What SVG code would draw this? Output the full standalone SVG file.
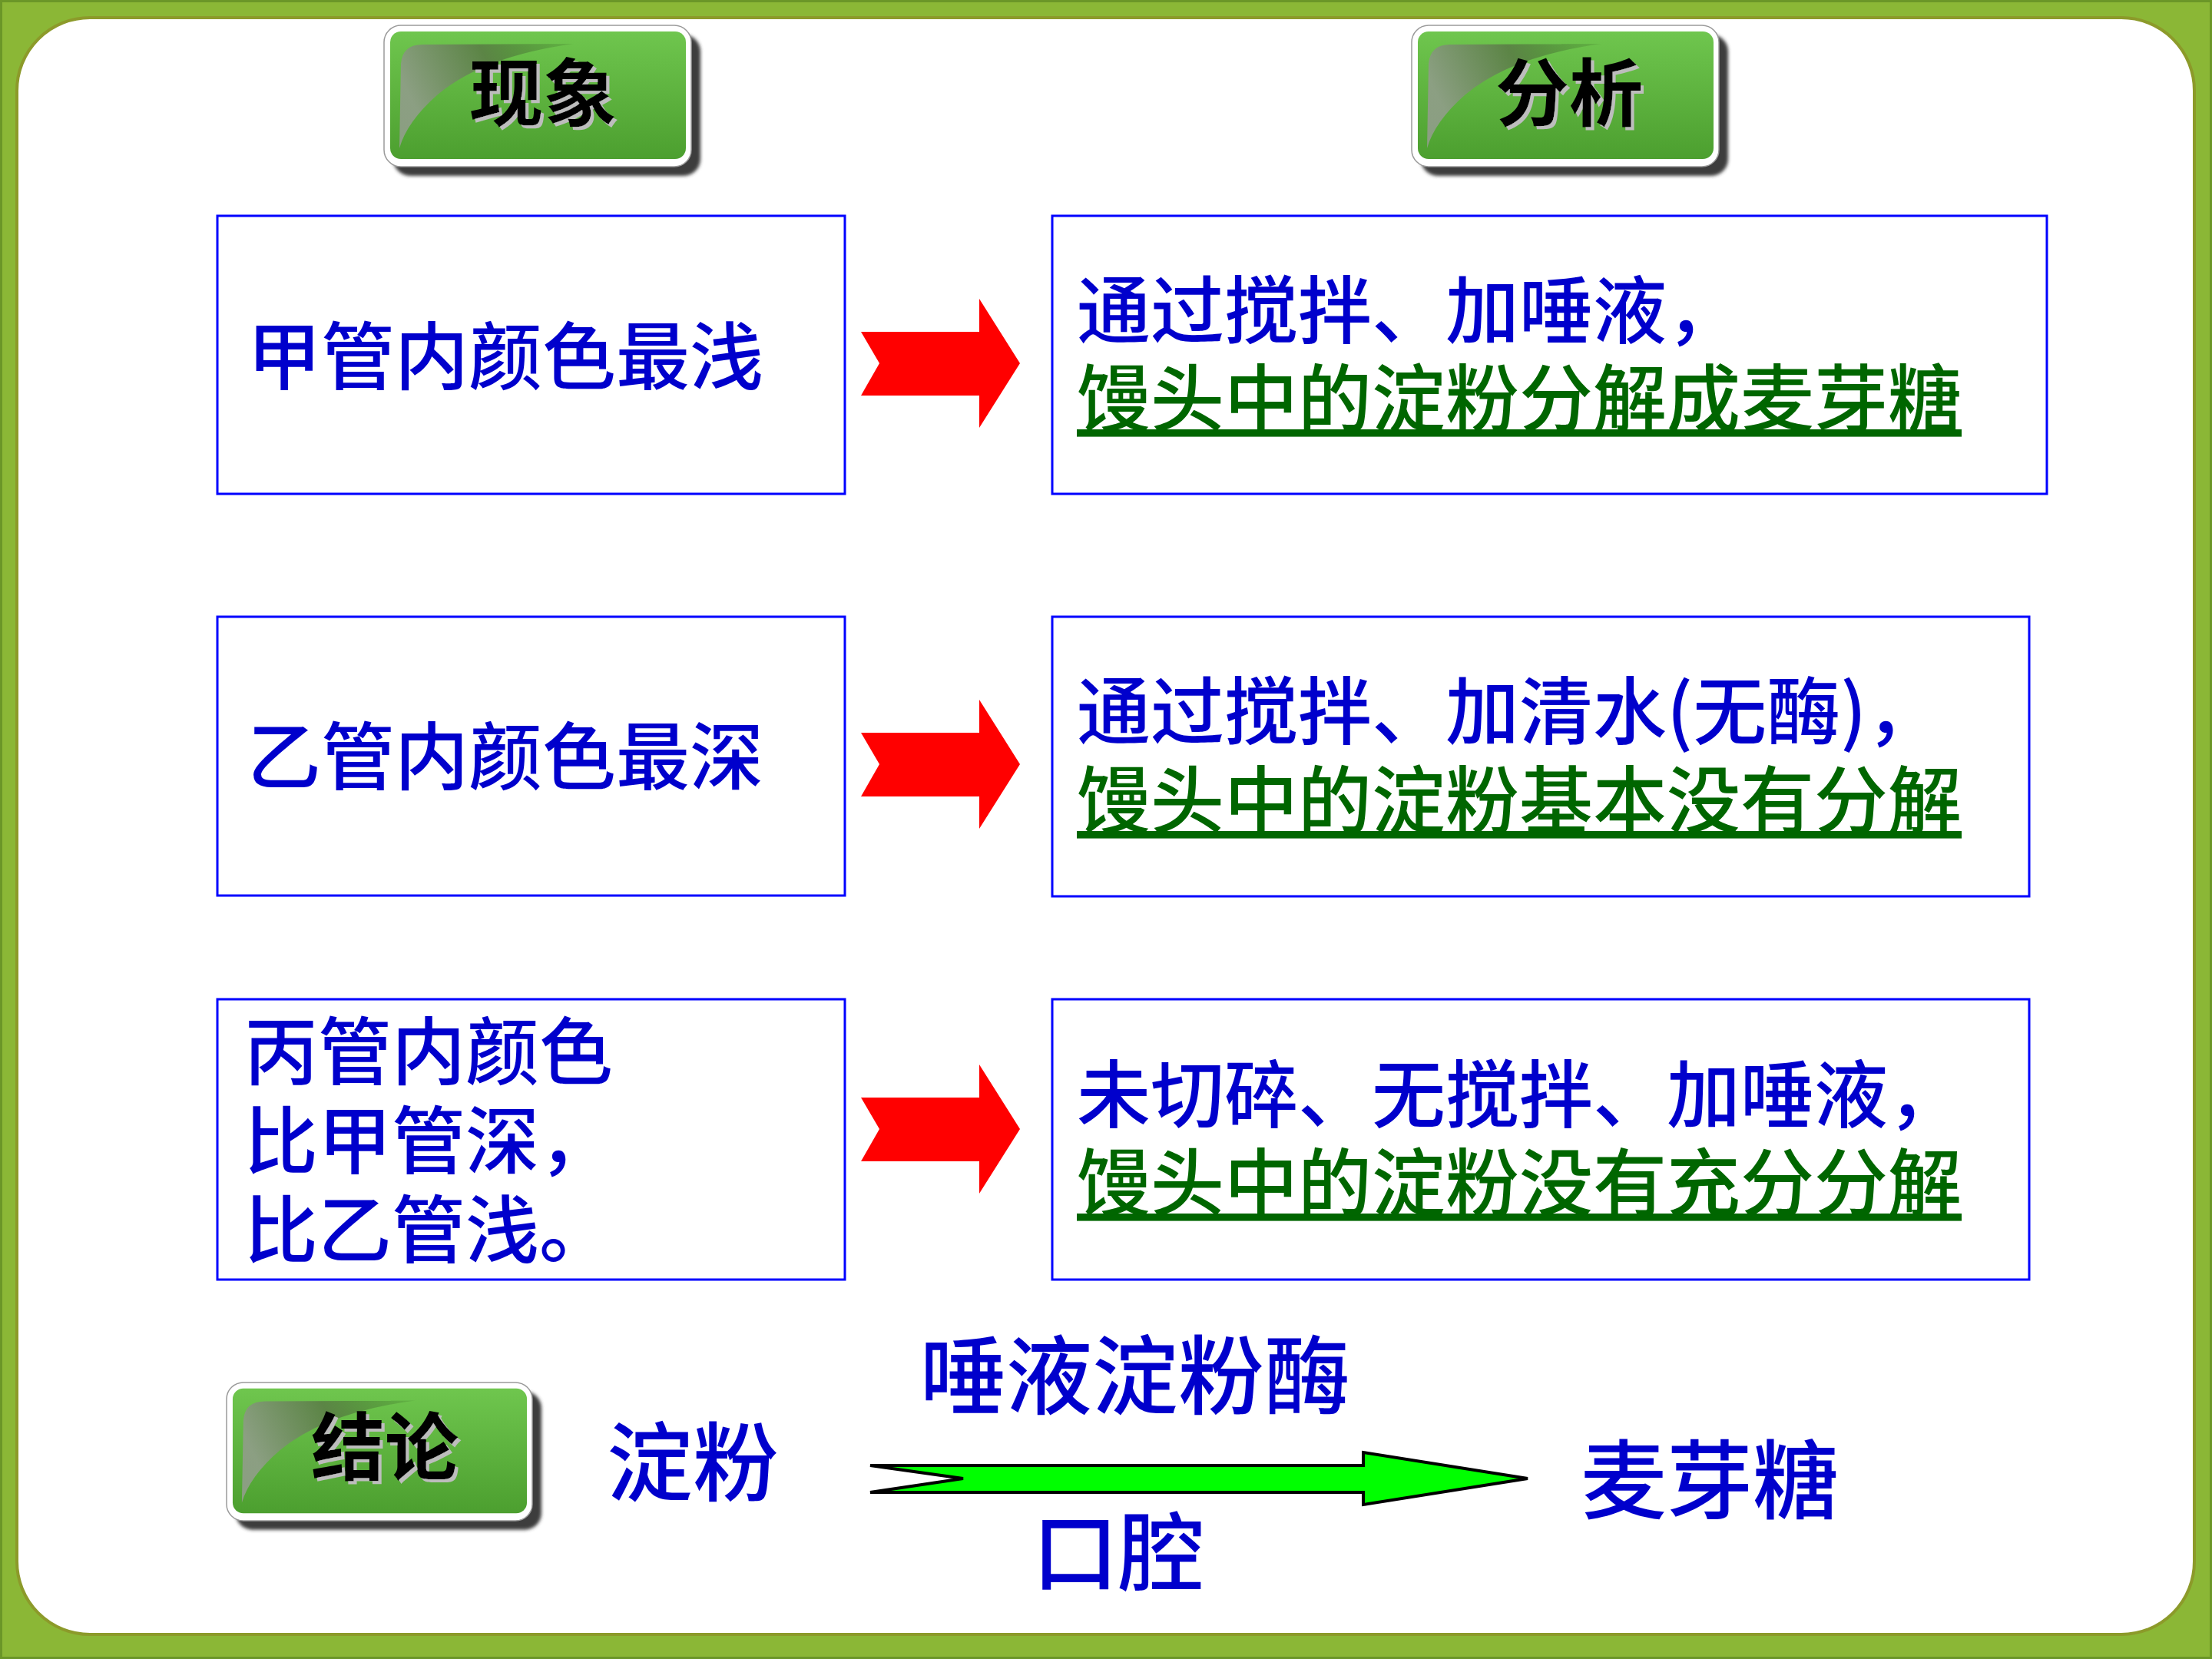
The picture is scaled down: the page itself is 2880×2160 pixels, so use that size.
<svg xmlns="http://www.w3.org/2000/svg" width="2880" height="2160" viewBox="0 0 2880 2160">
  <defs>
    <linearGradient id="btnFill" x1="0" y1="0" x2="0" y2="1">
      <stop offset="0" stop-color="#6FC64E"/>
      <stop offset="1" stop-color="#4C9F2F"/>
    </linearGradient>
    <linearGradient id="curlFill" x1="0" y1="0.3" x2="1" y2="0">
      <stop offset="0" stop-color="#8E9E86" stop-opacity="0.95"/>
      <stop offset="0.5" stop-color="#5A7E45" stop-opacity="0.9"/>
      <stop offset="1" stop-color="#3F7A2A" stop-opacity="0.2"/>
    </linearGradient>
    <filter id="blur" x="-10%" y="-10%" width="120%" height="130%">
      <feGaussianBlur stdDeviation="2"/>
    </filter>
    <filter id="textShadow" x="-10%" y="-10%" width="130%" height="130%">
      <feOffset in="SourceAlpha" dx="4" dy="4" result="off"/>
      <feFlood flood-color="#BDBDBD"/>
      <feComposite operator="in" in2="off" result="shadow"/>
      <feMerge>
        <feMergeNode in="shadow"/>
        <feMergeNode in="SourceGraphic"/>
      </feMerge>
    </filter>
    <g id="button">
      <rect x="12" y="12" width="400" height="184" rx="22" fill="#3C3C3C" filter="url(#blur)"/>
      <rect x="0" y="0" width="400" height="184" rx="22" fill="#FFFFFF" stroke="#9A9A9A" stroke-width="1.5"/>
      <rect x="8" y="8" width="385" height="166" rx="14" fill="url(#btnFill)"/>
      <path d="M 20 160 L 22 50 Q 24 25 50 25 L 247 24 Q 130 40 70 90 Q 30 125 20 160 Z" fill="url(#curlFill)"/>
    </g>
  </defs>
  <style>
    .cjk { font-family: "Noto Sans CJK SC", "Noto Sans CJK TC", sans-serif; font-weight: 500; }
    .blue { fill: #0000CC; font-size: 96px; }
    .green { fill: #006600; text-decoration: underline; }
    .big { fill: #0000CC; font-size: 112px; }
    .btn-text { fill: #000000; font-size: 96px; text-anchor: middle; font-weight: 700; filter: url(#textShadow); }
    .box { fill: #FFFFFF; stroke: #0000FF; stroke-width: 3; }
    .red-arrow { fill: #FF0000; }
    .green-arrow { fill: #00FF00; stroke: #000000; stroke-width: 4; stroke-linejoin: miter; }
  </style>

  <!-- background frame -->
  <g id="frame">
    <rect x="0" y="0" width="2880" height="2160" fill="#8BB736"/>
    <rect x="1.5" y="1.5" width="2877" height="2157" fill="none" stroke="#6B9628" stroke-width="3"/>
    <rect x="22" y="23" width="2835" height="2105" rx="95" fill="#FFFFFF" stroke="#8C9A2A" stroke-width="4"/>
  </g>

  <!-- header buttons -->
  <g id="btn-phenomenon">
    <use href="#button" x="500" y="33"/>
    <text class="cjk btn-text" x="707" y="156">现象</text>
  </g>
  <g id="btn-analysis">
    <use href="#button" x="1838" y="33"/>
    <text class="cjk btn-text" x="2043" y="156">分析</text>
  </g>

  <!-- left (phenomenon) boxes -->
  <g id="phen-1">
    <rect class="box" x="283" y="281" width="817" height="362"/>
    <text class="cjk blue" x="322" y="499">甲管内颜色最浅</text>
  </g>
  <g id="phen-2">
    <rect class="box" x="283" y="803" width="817" height="363"/>
    <text class="cjk blue" x="322" y="1020">乙管内颜色最深</text>
  </g>
  <g id="phen-3">
    <rect class="box" x="283" y="1301" width="817" height="365"/>
    <text class="cjk blue"><tspan x="318" y="1404">丙管内颜色</tspan><tspan x="318" y="1520">比甲管深，</tspan><tspan x="318" y="1636">比乙管浅。</tspan></text>
  </g>

  <!-- right (analysis) boxes -->
  <g id="anal-1">
    <rect class="box" x="1370" y="281" width="1295" height="362"/>
    <text class="cjk blue"><tspan x="1402" y="439">通过搅拌、加唾液，</tspan><tspan class="green" x="1402" y="554">馒头中的淀粉分解成麦芽糖</tspan></text>
  </g>
  <g id="anal-2">
    <rect class="box" x="1370" y="803" width="1272" height="364"/>
    <text class="cjk blue"><tspan x="1402" y="961">通过搅拌、加清水(无酶)，</tspan><tspan class="green" x="1402" y="1077">馒头中的淀粉基本没有分解</tspan></text>
  </g>
  <g id="anal-3">
    <rect class="box" x="1370" y="1301" width="1272" height="365"/>
    <text class="cjk blue"><tspan x="1402" y="1460">未切碎、无搅拌、加唾液，</tspan><tspan class="green" x="1402" y="1575">馒头中的淀粉没有充分分解</tspan></text>
  </g>

  <!-- conclusion -->
  <g id="btn-conclusion">
    <use href="#button" transform="translate(295 1800) scale(0.995 0.978)"/>
    <text class="cjk btn-text" x="501" y="1919">结论</text>
  </g>
  <g id="starch">
    <text class="cjk big" x="790" y="1946">淀粉</text>
  </g>
  <g id="enzyme">
    <text class="cjk big" x="1198" y="1833">唾液淀粉酶</text>
  </g>
  <g id="mouth">
    <text class="cjk big" x="1344" y="2063">口腔</text>
  </g>
  <g id="maltose">
    <text class="cjk big" x="2058" y="1969">麦芽糖</text>
  </g>

  <!-- connectors -->
  <g id="connectors">
    <polygon class="red-arrow" points="1121,432 1275,432 1275,389 1328,473 1275,557 1275,515 1121,515 1145,473"/>
    <polygon class="red-arrow" points="1121,954 1275,954 1275,911 1328,995 1275,1079 1275,1037 1121,1037 1145,995"/>
    <polygon class="red-arrow" points="1121,1429 1275,1429 1275,1386 1328,1470 1275,1554 1275,1512 1121,1512 1145,1470"/>
    <polygon class="green-arrow" points="1133,1908 1775,1908 1775,1891 1989,1925 1775,1959 1775,1943 1133,1943 1254,1925"/>
  </g>
</svg>
